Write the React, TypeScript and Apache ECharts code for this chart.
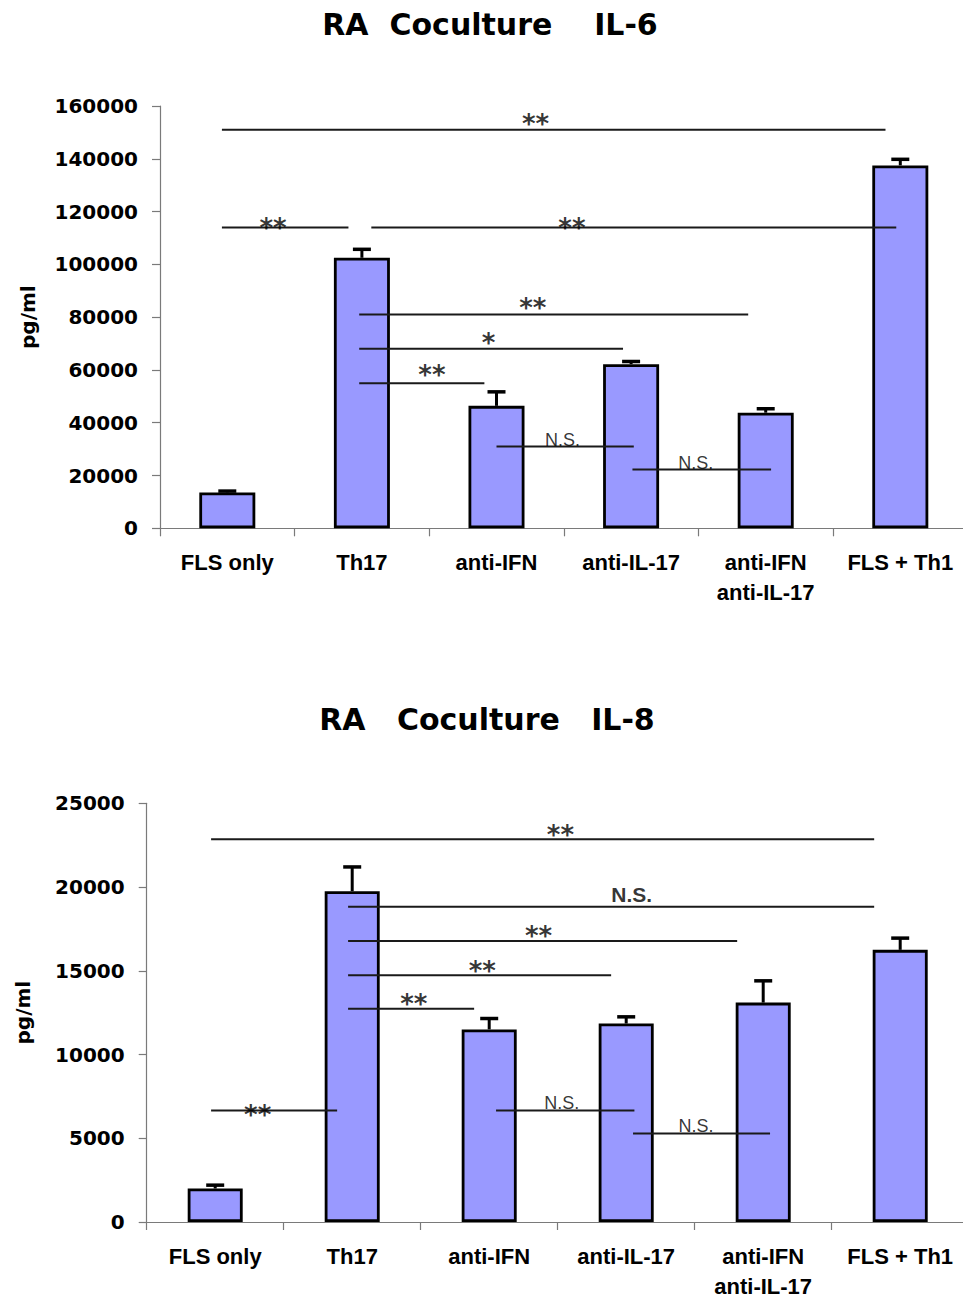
import React, { useEffect, useRef } from "react";
import * as echarts from "echarts";

const categories = ["FLS only", "Th17", "anti-IFN", "anti-IL-17", "anti-IFN\nanti-IL-17", "FLS + Th1"];

const il6Values = [13600, 102500, 46400, 62200, 43800, 137500];
const il6Errors = [500, 3200, 5300, 1000, 1500, 2300];
const il8Values = [2000, 19750, 11500, 11850, 13100, 16250];
const il8Errors = [200, 1450, 650, 400, 1300, 700];

// significance brackets: category-unit x extents (0..6) and value y
const il6SigFrom = [0.46, 0.46, 1.57, 1.48, 1.48, 1.48, 2.5, 3.51];
const il6SigTo = [5.39, 1.4, 5.47, 4.37, 3.44, 2.41, 3.52, 4.54];
const il6SigY = [151000, 114000, 114000, 81000, 68000, 55000, 31000, 22300];
const il6SigText = ["**", "**", "**", "**", "*", "**", "N.S.", "N.S."];
const il6SigTextX = [2.79, 0.84, 3.06, 2.77, 2.44, 2.02, 2.99, 3.98];
const il6SigTextY = [155000, 115800, 115600, 85300, 72100, 59800, 33600, 24900];

const il8SigFrom = [0.47, 1.47, 1.47, 1.47, 1.47, 0.47, 2.55, 3.55];
const il8SigTo = [5.31, 5.31, 4.31, 3.39, 2.39, 1.39, 3.56, 4.55];
const il8SigY = [22860, 18830, 16780, 14740, 12740, 6660, 6660, 5290];
const il8SigText = ["**", "N.S.", "**", "**", "**", "**", "N.S.", "N.S."];
const il8SigTextX = [3.02, 3.54, 2.86, 2.45, 1.95, 0.81, 3.03, 4.01];
const il8SigTextY = [23400, 19560, 17400, 15300, 13300, 6670, 7110, 5730];

const il6Title = "RA  Coculture    IL-6";
const il8Title = "RA   Coculture   IL-8";
const yName = "pg/ml";

const WIDE = '"DejaVu Sans", Verdana, sans-serif';
const ARIAL = '"Liberation Sans", Arial, sans-serif';

function buildSeries(
  catAxis: number,
  valAxis: number,
  yAxis: number,
  values: number[],
  errors: number[],
  barW: number,
  from: number[],
  to: number[],
  sy: number[],
  texts: string[],
  tx: number[],
  ty: number[]
): any[] {
  const out: any[] = [];
  out.push({
    type: "bar",
    xAxisIndex: catAxis,
    yAxisIndex: yAxis,
    data: values,
    barWidth: barW,
    itemStyle: { color: "#9999FF", borderColor: "#000", borderWidth: 2.8 },
    z: 2,
  });
  out.push({
    type: "custom",
    xAxisIndex: catAxis,
    yAxisIndex: yAxis,
    data: values.map((v, i) => [i, v, errors[i]]),
    encode: { x: 0, y: 1 },
    z: 3,
    renderItem: (params: any, api: any) => {
      const i = api.value(0);
      const v = api.value(1);
      const e = api.value(2);
      const p0 = api.coord([i, v]);
      const p1 = api.coord([i, v + e]);
      const half = 9;
      return {
        type: "group",
        children: [
          {
            type: "line",
            shape: { x1: p0[0], y1: p0[1], x2: p1[0], y2: p1[1] },
            style: { stroke: "#000", lineWidth: 3 },
          },
          {
            type: "line",
            shape: { x1: p1[0] - half, y1: p1[1], x2: p1[0] + half, y2: p1[1] },
            style: { stroke: "#000", lineWidth: 3.5 },
          },
        ],
      };
    },
  });
  from.forEach((f, i) => {
    out.push({
      type: "line",
      xAxisIndex: valAxis,
      yAxisIndex: yAxis,
      data: [
        [f, sy[i]],
        [to[i], sy[i]],
      ],
      symbol: "none",
      silent: true,
      lineStyle: { color: "#1a1a1a", width: 2 },
      z: 5,
    });
  });
  out.push({
    type: "scatter",
    xAxisIndex: valAxis,
    yAxisIndex: yAxis,
    symbolSize: 1,
    silent: true,
    itemStyle: { color: "rgba(0,0,0,0)" },
    z: 6,
    data: texts.map((t, i) => {
      const star = t.indexOf("*") >= 0;
      const big = !star && to[i] - from[i] > 2;
      return {
        value: [tx[i], ty[i]],
        name: t,
        label: star
          ? { fontFamily: WIDE, fontWeight: "bold", fontSize: 26, offset: [0, 5] }
          : big
          ? { fontFamily: ARIAL, fontWeight: "bold", fontSize: 21, offset: [0, 0] }
          : { fontFamily: ARIAL, fontWeight: "normal", fontSize: 18, offset: [0, 0] },
      };
    }),
    label: {
      show: true,
      position: "inside",
      align: "center",
      verticalAlign: "middle",
      color: "#000",
      formatter: (p: any) => p.name,
    },
  });
  return out;
}

function catAxis(grid: number): any {
  return {
    type: "category",
    gridIndex: grid,
    data: categories,
    boundaryGap: true,
    axisLine: { show: true, lineStyle: { color: "#7a7a7a", width: 1.2 } },
    axisTick: { show: true, length: 8, lineStyle: { color: "#7a7a7a", width: 1.2 } },
    axisLabel: {
      interval: 0,
      margin: 19,
      color: "#000",
      fontFamily: ARIAL,
      fontWeight: "bold",
      fontSize: 22,
      lineHeight: 30,
    },
    splitLine: { show: false },
  };
}

function hiddenAxis(grid: number): any {
  return { type: "value", gridIndex: grid, min: 0, max: 6, show: false };
}

function valAxis(grid: number, max: number, interval: number, gap: number): any {
  return {
    type: "value",
    gridIndex: grid,
    min: 0,
    max,
    interval,
    name: yName,
    nameLocation: "middle",
    nameGap: gap,
    nameTextStyle: { fontFamily: WIDE, fontWeight: "bold", fontSize: 20, color: "#000" },
    axisLine: { show: true, lineStyle: { color: "#7a7a7a", width: 1.2 } },
    axisTick: { show: true, length: 8, lineStyle: { color: "#7a7a7a", width: 1.2 } },
    axisLabel: {
      margin: 22,
      color: "#000",
      fontFamily: WIDE,
      fontWeight: "bold",
      fontSize: 20,
      formatter: (v: number) => String(v),
    },
    splitLine: { show: false },
  };
}

export default function App() {
  const ref = useRef<HTMLDivElement>(null);
  useEffect(() => {
    if (!ref.current) return;
    const chart = echarts.init(ref.current, undefined, { renderer: "svg" });
    const option: any = {
      animation: false,
      backgroundColor: "#fff",
      title: [
        {
          text: il6Title,
          left: 485,
          top: 4,
          textAlign: "center",
          textStyle: { fontFamily: WIDE, fontWeight: "bold", fontSize: 30, color: "#000" },
        },
        {
          text: il8Title,
          left: 482,
          top: 699,
          textAlign: "center",
          textStyle: { fontFamily: WIDE, fontWeight: "bold", fontSize: 30, color: "#000" },
        },
      ],
      grid: [
        { left: 160, top: 106, width: 807.6, height: 422.3 },
        { left: 146.7, top: 803.3, width: 822, height: 421.7 },
      ],
      xAxis: [catAxis(0), hiddenAxis(0), catAxis(1), hiddenAxis(1)],
      yAxis: [valAxis(0, 160000, 20000, 122), valAxis(1, 25000, 5000, 114)],
      series: [
        ...buildSeries(0, 1, 0, il6Values, il6Errors, 56, il6SigFrom, il6SigTo, il6SigY, il6SigText, il6SigTextX, il6SigTextY),
        ...buildSeries(2, 3, 1, il8Values, il8Errors, 55, il8SigFrom, il8SigTo, il8SigY, il8SigText, il8SigTextX, il8SigTextY),
      ],
    };
    chart.setOption(option);
    return () => chart.dispose();
  }, []);
  return (
    <div style={{ position: "absolute", left: 0, top: 0, width: 963, height: 1301, overflow: "hidden", background: "#fff" }}>
      <div ref={ref} style={{ width: 975, height: 1301 }} />
    </div>
  );
}
